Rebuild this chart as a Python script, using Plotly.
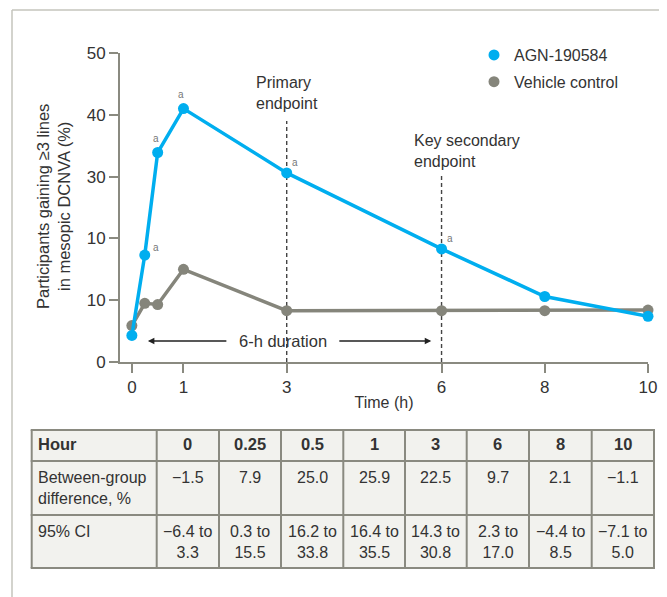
import plotly.graph_objects as go

# ---- data ----
time_h = [0, 0.25, 0.5, 1, 3, 6, 8, 10]
agn = [4.3, 17.3, 33.9, 41.0, 30.6, 18.3, 10.6, 7.4]
vehicle = [5.9, 9.5, 9.3, 15.0, 8.3, 8.3, 8.3, 8.4]
sig_times = [0.25, 0.5, 1, 3, 6]
y_tickvals = [0, 10, 20, 30, 40, 50]
y_ticktext = ["0", "10", "10", "30", "40", "50"]
x_tickvals = [0, 1, 3, 6, 8, 10]
endpoints = [3, 6]
endpoint_labels = ["Primary<br>endpoint", "Key secondary<br>endpoint"]

table_header = ["Hour", "0", "0.25", "0.5", "1", "3", "6", "8", "10"]
row_labels = ["Between-group<br>difference, %", "95% CI"]
diff_vals = ["−1.5", "7.9", "25.0", "25.9", "22.5", "9.7", "2.1", "−1.1"]
ci_low = ["−6.4", "0.3", "16.2", "16.4", "14.3", "2.3", "−4.4", "−7.1"]
ci_high = ["3.3", "15.5", "33.8", "35.5", "30.8", "17.0", "8.5", "5.0"]

# ---- styles ----
BLUE = "#00aeef"
GREY = "#85857b"
AXIS = "#8a8a80"
TXT = "#333333"
FONT = "Liberation Sans, Arial, sans-serif"
W, H = 667, 597
OFF = 8  # page body margin compensation


def px(v):
    return (v - OFF) / W


def py(v):
    return 1 - (v - OFF) / H


fig = go.Figure()

fig.add_trace(go.Scatter(x=time_h, y=vehicle, mode="lines+markers",
                         line=dict(color=GREY, width=3.5),
                         marker=dict(color=GREY, size=11),
                         cliponaxis=False, showlegend=False))
fig.add_trace(go.Scatter(x=time_h, y=agn, mode="lines+markers",
                         line=dict(color=BLUE, width=3.5),
                         marker=dict(color=BLUE, size=11),
                         cliponaxis=False, showlegend=False))
# legend-only entries (dot only)
fig.add_trace(go.Scatter(x=[None], y=[None], mode="markers", name="AGN-190584",
                         marker=dict(color=BLUE, size=11), legendgroup="a"))
fig.add_trace(go.Scatter(x=[None], y=[None], mode="markers", name="Vehicle control",
                         marker=dict(color=GREY, size=11), legendgroup="b"))

shapes = []
annotations = []

# endpoint dashed lines
for xe, ytop in zip(endpoints, [39.0, 30.3]):
    shapes.append(dict(type="line", xref="x", yref="y", x0=xe, x1=xe, y0=0, y1=ytop,
                       line=dict(color="#444444", width=1.4, dash="4px,3px"), layer="below"))
# outer frame
shapes.append(dict(type="line", xref="paper", yref="paper", x0=px(12), x1=1,
                   y0=py(10), y1=py(10), line=dict(color="#c4c4bc", width=1.5)))
shapes.append(dict(type="line", xref="paper", yref="paper", x0=px(12), x1=px(12),
                   y0=0, y1=py(10), line=dict(color="#c4c4bc", width=1.5)))

# ---- table drawn with shapes + annotations ----
col_edges = [31.7, 156.7, 219, 281, 343.3, 405, 466.7, 529, 591.7, 654]
row_edges = [430, 461, 515, 568]
shapes.append(dict(type="rect", xref="paper", yref="paper",
                   x0=px(col_edges[0]), x1=px(col_edges[-1]),
                   y0=py(row_edges[-1]), y1=py(row_edges[0]),
                   fillcolor="#f2f2ee", line=dict(width=0), layer="below"))
for r in row_edges:
    shapes.append(dict(type="line", xref="paper", yref="paper",
                       x0=px(col_edges[0] - 1), x1=px(col_edges[-1] + 1), y0=py(r), y1=py(r),
                       line=dict(color=AXIS, width=2)))
for c in col_edges:
    shapes.append(dict(type="line", xref="paper", yref="paper",
                       x0=px(c), x1=px(c), y0=py(row_edges[-1]), y1=py(row_edges[0]),
                       line=dict(color=AXIS, width=2)))

rows = [
    [f"<b>{h}</b>" for h in table_header],
    [row_labels[0]] + diff_vals,
    [row_labels[1]] + [f"{lo} to<br>{hi}" for lo, hi in zip(ci_low, ci_high)],
]
row_text_top = [433, 467, 521]
for ri, row in enumerate(rows):
    for ci, txt in enumerate(row):
        if ci == 0:
            x, xa = col_edges[0] + 4, "left"
        else:
            x, xa = (col_edges[ci] + col_edges[ci + 1]) / 2, "center"
        annotations.append(dict(x=px(x), y=py(row_text_top[ri]), xref="paper", yref="paper",
                                text=txt, showarrow=False, xanchor=xa, yanchor="top",
                                align="left" if ci == 0 else "center",
                                font=dict(family=FONT, size=16 if ri else 16.5, color=TXT)))

# significance markers
sig_shifts = [(11, 8), (-2, 14), (-2, 14), (8, 10), (8, 10)]
for t, (dx, dy) in zip(sig_times, sig_shifts):
    yv = agn[time_h.index(t)]
    annotations.append(dict(x=t, y=yv, xref="x", yref="y", text="a", showarrow=False,
                            xshift=dx, yshift=dy, font=dict(family=FONT, size=10, color="#777777")))
# endpoint labels
for lab, xl, yl in zip(endpoint_labels, [2.36, 5.43], [46.9, 37.6]):
    annotations.append(dict(x=xl, y=yl, xref="x", yref="y", text=lab, showarrow=False,
                            xanchor="left", yanchor="top", align="left",
                            font=dict(family=FONT, size=16, color=TXT)))
# 6-h duration
annotations.append(dict(x=2.93, y=3.4, xref="x", yref="y", text="6-h duration", showarrow=False,
                        font=dict(family=FONT, size=16.5, color=TXT)))
for head, tail in [(0.31, 1.86), (5.8, 3.99)]:
    annotations.append(dict(x=head, y=3.4, ax=tail, ay=3.4, xref="x", yref="y",
                            axref="x", ayref="y", text="", showarrow=True,
                            arrowhead=2, arrowsize=1, arrowwidth=1.3, arrowcolor="#222222"))
# y title
annotations.append(dict(x=px(54), y=py(207), xref="paper", yref="paper",
                        xanchor="center", yanchor="middle",
                        text="Participants gaining ≥3 lines<br>in mesopic DCNVA (%)",
                        textangle=-90, showarrow=False,
                        font=dict(family=FONT, size=16.5, color=TXT)))

fig.update_layout(
    width=W, height=H, margin=dict(l=0, r=0, t=0, b=0, autoexpand=False),
    paper_bgcolor="white", plot_bgcolor="white",
    font=dict(family=FONT, size=16, color=TXT),
    shapes=shapes, annotations=annotations,
    legend=dict(x=px(474), y=py(38), xanchor="left", yanchor="top",
                font=dict(family=FONT, size=16, color=TXT),
                bgcolor="rgba(0,0,0,0)", tracegroupgap=3, traceorder="grouped"),
    xaxis=dict(domain=[px(120), px(648)], range=[-0.23, 10], tickvals=x_tickvals,
               automargin=False,
               showgrid=False, zeroline=False, showline=True, linecolor=AXIS, linewidth=2,
               ticks="outside", ticklen=9, tickwidth=2, tickcolor=AXIS,
               tickfont=dict(family=FONT, size=17, color=TXT),
               title=dict(text="Time (h)", standoff=0, font=dict(family=FONT, size=16, color=TXT))),
    yaxis=dict(domain=[py(362), py(53)], range=[0, 50], tickvals=y_tickvals,
               ticktext=y_ticktext, automargin=False,
               showgrid=False, zeroline=False, showline=True, linecolor=AXIS, linewidth=2,
               ticks="outside", ticklen=9, tickwidth=2, tickcolor=AXIS,
               tickfont=dict(family=FONT, size=17, color=TXT)),
)

fig.write_html("out.html")
